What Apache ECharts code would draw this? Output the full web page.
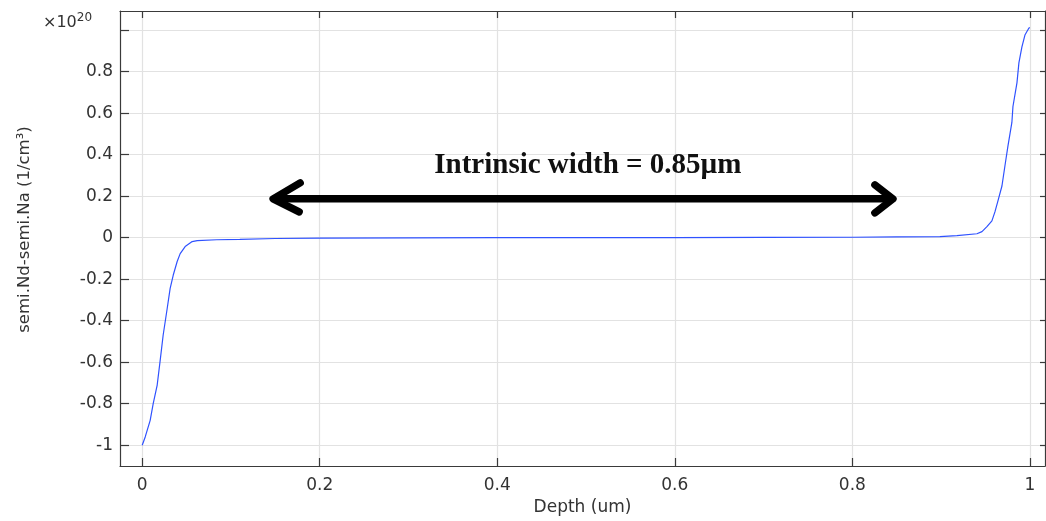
<!DOCTYPE html>
<html>
<head>
<meta charset="utf-8">
<script src="https://cdn.jsdelivr.net/npm/echarts@6/dist/echarts.min.js"></script>
<style>
html,body{margin:0;padding:0;background:#fff;}
#chart{width:1046px;height:521px;}
</style>
</head>
<body>
<div id="chart"></div>
<script>
// Depth (um)
const depth = [0, 0.0034, 0.009, 0.0124, 0.0169, 0.0203, 0.0236, 0.0282, 0.0315, 0.035,
  0.0394, 0.0428, 0.0484, 0.0563, 0.062, 0.084, 0.11, 0.15, 0.2, 0.3,
  0.4, 0.5, 0.6, 0.7, 0.8, 0.85, 0.8986, 0.9178, 0.9403, 0.946,
  0.9516, 0.9572, 0.9606, 0.964, 0.9685, 0.9718, 0.9752, 0.9797, 0.9809, 0.9854,
  0.9876, 0.991, 0.9944, 0.9989, 1.0];
// semi.Nd - semi.Na (x1e20 1/cm^3)
const netDoping = [-1.0, -0.96, -0.88, -0.80, -0.71, -0.59, -0.47, -0.34, -0.244, -0.18,
  -0.115, -0.077, -0.043, -0.019, -0.014, -0.01, -0.008, -0.004, -0.002, -0.001,
  0, 0, 0, 0.001, 0.002, 0.004, 0.005, 0.01, 0.019, 0.029,
  0.053, 0.081, 0.124, 0.177, 0.249, 0.344, 0.44, 0.555, 0.632, 0.746,
  0.842, 0.919, 0.976, 1.01, 1.012];
const xTicks = [0, 0.2, 0.4, 0.6, 0.8, 1];
const yTicks = [-1, -0.8, -0.6, -0.4, -0.2, 0, 0.2, 0.4, 0.6, 0.8, 1];
const yLabelTicks = [-1, -0.8, -0.6, -0.4, -0.2, 0, 0.2, 0.4, 0.6, 0.8];
// annotation: arrow from..to at height, label centre
const arrowFrom = 0.1475, arrowTo = 0.8457, arrowY = 0.187;
const labelX = 0.502, labelY = 0.349;
const labelText = 'Intrinsic width = 0.85\u00b5m';

const chart = echarts.init(document.getElementById('chart'));
const axisColor = '#3a3a3a';
const textColor = '#333';
const font = 'DejaVu Sans';
const curve = depth.map((d, i) => [d, netDoping[i]]);

chart.setOption({
  animation: false,
  grid: {left: 120, right: 1, top: 11, bottom: 52},
  title: {
    text: '\u00d710{s|20}', left: 38, top: 7,
    textStyle: {fontFamily: font, fontSize: 16, fontWeight: 'normal', color: textColor,
      rich: {s: {fontFamily: font, fontSize: 12, color: textColor, verticalAlign: 'top', padding: [0, 0, 9, 0]}}}
  },
  xAxis: [{
    type: 'value', min: -0.025, max: 1.017, position: 'bottom',
    name: 'Depth (um)', nameLocation: 'middle', nameGap: 33,
    nameTextStyle: {fontFamily: font, fontSize: 17, color: textColor},
    axisLine: {show: true, onZero: false, lineStyle: {color: axisColor, width: 1.2}},
    axisTick: {show: true, inside: true, length: 8, customValues: xTicks, lineStyle: {color: axisColor, width: 1.2}},
    axisLabel: {show: true, customValues: xTicks, margin: 11, fontFamily: font, fontSize: 17, color: textColor,
      formatter: v => String(v)},
    splitLine: {show: true, lineStyle: {color: '#e2e2e2', width: 1.2}}
  }, {
    type: 'value', min: -0.025, max: 1.017, position: 'top',
    axisLine: {show: true, onZero: false, lineStyle: {color: axisColor, width: 1.2}},
    axisTick: {show: true, inside: true, length: 7, customValues: xTicks, lineStyle: {color: axisColor, width: 1.2}},
    axisLabel: {show: false}, splitLine: {show: false}
  }],
  yAxis: [{
    type: 'value', min: -1.1, max: 1.092, position: 'left',
    name: 'semi.Nd-semi.Na (1/cm\u00b3)', nameLocation: 'middle', nameGap: 87,
    nameTextStyle: {fontFamily: font, fontSize: 16.5, color: textColor, padding: [0, 0, 0, 18]},
    axisLine: {show: true, onZero: false, lineStyle: {color: axisColor, width: 1.2}},
    axisTick: {show: true, inside: true, length: 9, customValues: yTicks, lineStyle: {color: axisColor, width: 1.2}},
    axisLabel: {show: true, customValues: yLabelTicks, margin: 7, fontFamily: font, fontSize: 17, color: textColor,
      formatter: v => String(v)},
    splitLine: {show: true, lineStyle: {color: '#e2e2e2', width: 1.2}}
  }, {
    type: 'value', min: -1.1, max: 1.092, position: 'right',
    axisLine: {show: true, onZero: false, lineStyle: {color: axisColor, width: 1.2}},
    axisTick: {show: true, inside: true, length: 5, customValues: yTicks, lineStyle: {color: axisColor, width: 1.2}},
    axisLabel: {show: false}, splitLine: {show: false}
  }],
  series: [{
    type: 'line', xAxisIndex: 0, yAxisIndex: 0, data: curve,
    showSymbol: false, symbol: 'none',
    lineStyle: {color: '#2f52ff', width: 1.2}
  }, {
    type: 'custom', xAxisIndex: 0, yAxisIndex: 0,
    encode: {x: [0, 2, 3], y: [1, 4]},
    data: [[arrowFrom, arrowY, arrowTo, labelX, labelY]],
    renderItem: function (params, api) {
      const p1 = api.coord([api.value(0), api.value(1)]);
      const p2 = api.coord([api.value(2), api.value(1)]);
      const pl = api.coord([api.value(3), api.value(4)]);
      const st = {stroke: '#000', lineWidth: 7.5, lineCap: 'round', lineJoin: 'round', fill: null};
      return {
        type: 'group',
        children: [
          {type: 'polyline', shape: {points: [[p1[0] + 2, p1[1]], [p2[0] - 3, p2[1]]]}, style: st},
          {type: 'polyline', shape: {points: [[p1[0] + 27, p1[1] - 16], [p1[0], p1[1]], [p1[0] + 26, p1[1] + 13]]}, style: st},
          {type: 'polyline', shape: {points: [[p2[0] - 18, p2[1] - 14], [p2[0], p2[1]], [p2[0] - 18, p2[1] + 14]]}, style: st},
          {type: 'text', x: pl[0], y: pl[1], style: {text: labelText, fill: '#111',
            font: 'bold 29px "Liberation Serif", "Times New Roman", serif', align: 'center', verticalAlign: 'middle'}}
        ]
      };
    }
  }]
});
</script>
</body>
</html>
